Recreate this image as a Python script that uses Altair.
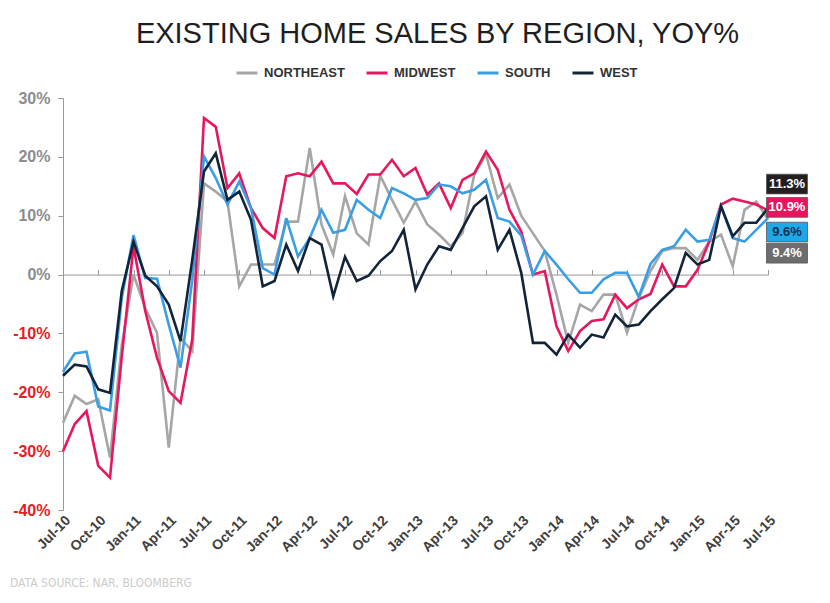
import altair as alt
import pandas as pd

months = [d.strftime("%b-%y") for d in pd.date_range("2010-07-01", "2015-07-01", freq="MS")]
tick_labels = months[::3]
regions = ["NORTHEAST", "MIDWEST", "SOUTH", "WEST"]
colors = ["#a6a6a6", "#e8175d", "#3a9ee4", "#12243a"]

northeast = [-25.2, -20.6, -22.0, -21.2, -31.1, -12.0, 0.0, -5.7, -9.9, -29.4,
             -10.8, -13.0, 15.5, 14.1, 12.4, -2.0, 1.7, 1.7, 1.7, 9.0,
             9.0, 21.5, 8.5, 3.4, 13.3, 7.0, 5.1, 16.8, 12.7, 8.8,
             12.4, 8.5, 6.8, 4.8, 7.1, 17.0, 20.4, 13.0, 15.3, 10.0,
             7.0, 4.0, -3.4, -11.6, -5.1, -6.2, -3.4, -3.4, -9.9, -4.0,
             0.6, 4.0, 4.5, 4.5, 2.5, 5.6, 6.8, 1.4, 11.0, 12.4,
             9.4]
midwest = [-30.0, -25.4, -23.2, -32.5, -34.5, -14.0, 4.8, -6.2, -14.1, -19.8,
           -21.8, -11.0, 26.6, 25.1, 14.7, 17.2, 11.3, 7.9, 6.2, 16.7,
           17.2, 16.7, 19.2, 15.5, 15.5, 13.7, 17.0, 17.0, 19.5, 16.7,
           18.1, 13.6, 15.5, 11.3, 16.1, 17.2, 20.9, 17.8, 11.0, 7.3,
           0.0, 0.6, -8.8, -13.0, -9.6, -7.9, -7.6, -3.4, -5.7, -4.2,
           -3.3, 1.7, -2.0, -2.0, 0.8, 5.6, 11.9, 12.9, 12.4, 11.9,
           10.9]
south = [-16.5, -13.4, -13.1, -22.4, -23.1, -4.0, 6.7, -0.6, -0.7, -8.5,
         -15.8, -1.0, 20.1, 16.4, 11.9, 15.8, 11.3, 1.1, 0.0, 9.6,
         3.1, 6.2, 11.0, 7.1, 7.6, 12.7, 11.0, 9.6, 14.7, 13.8,
         12.7, 13.0, 15.3, 15.0, 13.8, 14.4, 16.1, 9.6, 9.0, 6.6,
         0.0, 4.0, 1.7, -0.8, -3.1, -3.1, -0.8, 0.3, 0.3, -3.8,
         1.8, 4.2, 4.8, 7.6, 5.6, 5.9, 11.6, 6.2, 5.6, 7.6,
         9.6]
west = [-17.2, -15.3, -15.6, -19.5, -20.1, -2.8, 5.6, -0.2, -2.0, -5.1,
        -11.3, 2.5, 17.5, 20.6, 12.7, 14.1, 9.3, -2.0, -1.1, 5.1,
        0.6, 6.2, 5.1, -3.7, 3.0, -1.1, -0.2, 2.3, 4.0, 7.6,
        -2.5, 1.7, 4.8, 4.2, 7.9, 11.6, 13.3, 4.2, 7.6, 0.3,
        -11.6, -11.6, -13.6, -10.2, -12.4, -10.2, -10.7, -6.8, -8.8, -8.5,
        -6.2, -4.2, -2.3, 3.7, 1.7, 2.5, 11.6, 6.5, 8.8, 8.8,
        11.3]

series = {"NORTHEAST": northeast, "MIDWEST": midwest, "SOUTH": south, "WEST": west}
rows = []
for r in regions:
    for m, v in zip(months, series[r]):
        rows.append({"month": m, "region": r, "value": v})
df = pd.DataFrame(rows)

W, H = 705, 412
YMIN, YMAX = -40, 30
FONT = "Liberation Sans"

xscale = alt.Scale(type="point", padding=0)
yscale = alt.Scale(domain=[YMIN, YMAX], nice=False, zero=False)

lines = alt.Chart(df).mark_line(strokeWidth=2.6).encode(
    x=alt.X("month:O", sort=months, scale=xscale, title=None,
            axis=alt.Axis(values=tick_labels, labelAngle=-45, labelAlign="right",
                          labelBaseline="top", labelPadding=3, domain=False, ticks=False,
                          labelFont=FONT, labelFontSize=14, labelFontWeight="bold",
                          labelColor="#404040", labelOverlap=False, labelFlush=False,
                          labelBound=False, grid=False)),
    y=alt.Y("value:Q", scale=yscale, title=None,
            axis=alt.Axis(values=list(range(YMIN, YMAX + 1, 10)),
                          labelExpr="datum.value + '%'", grid=False,
                          domainColor="#999999", tickColor="#999999", tickSize=5,
                          labelPadding=8, labelFont=FONT, labelFontSize=16,
                          labelFontWeight="bold",
                          labelColor=alt.expr("datum.value < 0 ? '#e31e24' : '#8c8c8c'"))),
    color=alt.Color("region:N", scale=alt.Scale(domain=regions, range=colors),
                    legend=alt.Legend(title=None, orient="none", direction="horizontal",
                                      legendX=172, legendY=-37, labelFont=FONT,
                                      labelFontSize=13, labelFontWeight="bold",
                                      labelColor="#333333", symbolType="stroke",
                                      symbolStrokeWidth=3, symbolSize=440,
                                      labelOffset=5, columnPadding=15)),
    order=alt.Order("region:N")
)

zero_offset = -H * YMAX / (YMAX - YMIN)
zero_axis = alt.Chart(df).mark_line(opacity=0).encode(
    x=alt.X("month:O", sort=months, scale=xscale, title=None,
            axis=alt.Axis(orient="top", offset=zero_offset, values=tick_labels,
                          labels=False, domainColor="#999999", tickColor="#999999",
                          tickSize=5, grid=False)),
    y=alt.Y("value:Q", scale=yscale, title=None),
    detail="region:N"
)

# end-of-line value boxes
box_style = {
    "WEST": ("#231f20", "#ffffff", -24),
    "MIDWEST": ("#e8145e", "#ffffff", -3),
    "SOUTH": ("#1ea8e8", "#16324f", 14),
    "NORTHEAST": ("#6d6d6d", "#ffffff", 34),
}
box_layers = []
for r in regions:
    fill, tcolor, dy = box_style[r]
    last = pd.DataFrame({"month": [months[-1]], "value": [series[r][-1]],
                         "label": [f"{series[r][-1]:.1f}%"]})
    base = alt.Chart(last).encode(
        x=alt.X("month:O", sort=months, scale=xscale, axis=None),
        y=alt.Y("value:Q", scale=yscale, title=None))
    box = base.mark_point(shape="M-1,-0.48H1V0.48H-1Z", size=1681, filled=True,
                          fill=fill, stroke="#555555", strokeWidth=0.8, opacity=1,
                          xOffset=19, yOffset=dy)
    txt = base.mark_text(dx=19, dy=dy, align="center", baseline="middle",
                         font=FONT, fontSize=13, fontWeight="bold",
                         color=tcolor).encode(text="label:N")
    box_layers += [box, txt]

source = alt.Chart(pd.DataFrame({"t": ["DATA SOURCE:  NAR, BLOOMBERG"]})).mark_text(
    align="left", baseline="top",
    font="Liberation Sans Narrow, DejaVu Sans Condensed, Liberation Sans",
    fontSize=12, color="#cccccc").encode(x=alt.value(-53), y=alt.value(480), text="t:N")

chart = alt.layer(lines, zero_axis, *box_layers, source).resolve_axis(
    x="independent"
).properties(
    width=W, height=H,
    title=alt.TitleParams("EXISTING HOME SALES BY REGION, YOY%", font=FONT,
                          fontSize=29, fontWeight="normal", color="#1e1e1e",
                          anchor="middle", dx=22, offset=12),
    autosize=alt.AutoSizeParams(type="none"),
    padding={"left": 55, "top": 90, "right": 54, "bottom": 85},
    background="white",
).configure_view(stroke=None)

chart.save("out.html", embed_options={"renderer": "svg", "actions": False})
